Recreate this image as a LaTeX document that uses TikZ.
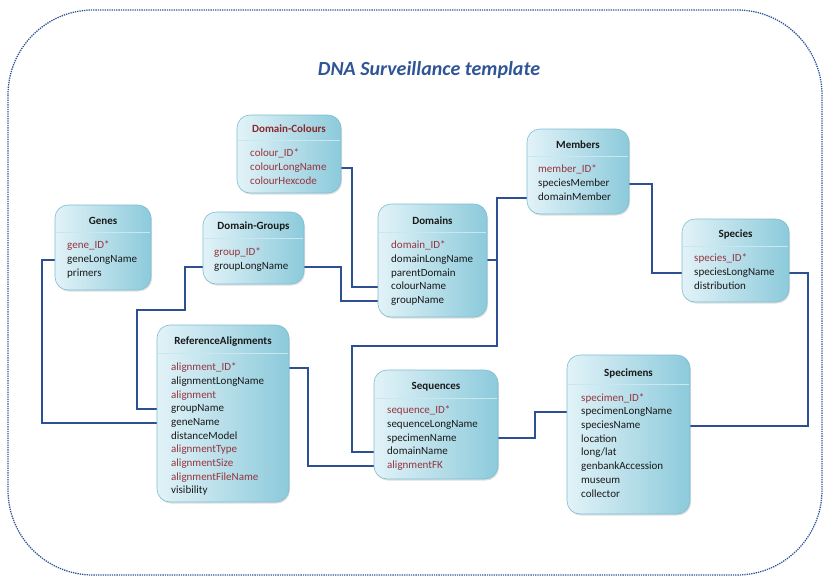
\documentclass[tikz,border=0pt]{standalone}
\usepackage{fontspec}
\setmainfont{Carlito}
\usetikzlibrary{fit,shadows,backgrounds}
\definecolor{lineblue}{RGB}{44,80,145}
\definecolor{titleblue}{RGB}{47,85,151}
\definecolor{fred}{RGB}{150,52,62}
\definecolor{hred}{RGB}{140,40,45}
\definecolor{fblack}{RGB}{25,25,25}
\definecolor{boxlight}{RGB}{226,243,248}
\definecolor{boxdark}{RGB}{140,202,219}
\definecolor{boxedge}{RGB}{125,190,210}
\definecolor{hdrline}{RGB}{200,232,241}
\tikzset{
  tbl/.style={draw=boxedge, line width=0.6pt, rounded corners=13pt, left color=boxlight, right color=boxdark, inner sep=0pt,
    drop shadow={opacity=0.25, shadow xshift=1pt, shadow yshift=-1.5pt}},
  hdr/.style={font=\bfseries\fontsize{11}{13}\selectfont, text=fblack, inner sep=0pt},
  fld/.style={font=\fontsize{11}{13}\selectfont, text=fblack, anchor=west, inner sep=0pt, text height=7.5pt, text depth=2.3pt},
  rfld/.style={fld, text=fred},
  conn/.style={draw=lineblue, line width=2pt},
  frame/.style={draw=titleblue, densely dotted, line width=1.3pt, rounded corners=85pt},
}
\newcommand\tablebox[7]{%
  \node[tbl, fit={(#2,#3)(#4,#5)}] (#1) {};
  \draw[hdrline, line width=1pt] (#2+0.6,#6+11) -- (#4-0.6,#6+11);
  \node[hdr] (#1-h) at ({(#2+#4)/2},#6) {#7};
}
\begin{document}
\begin{tikzpicture}[x=1pt,y=-1pt]
\useasboundingbox (0,0) rectangle (825,576);

\node[font=\bfseries\itshape\fontsize{20}{24}\selectfont, text=titleblue] (title) at (429,70) {DNA Surveillance template};

% Domain-Colours
\tablebox{dc}{237}{115}{341}{193}{129}{\textcolor{hred}{Domain-Colours}}
\node[rfld] (dc-1) at (250,154) {colour\_ID*};
\node[rfld] (dc-2) at (250,168) {colourLongName};
\node[rfld] (dc-3) at (250,182) {colourHexcode};

% Genes
\tablebox{gn}{55}{205}{151}{290}{221}{Genes}
\node[rfld] (gn-1) at (67,246) {gene\_ID*};
\node[fld] (gn-2) at (67,260) {geneLongName};
\node[fld] (gn-3) at (67,274) {primers};

% Domain-Groups
\tablebox{dg}{203}{212}{304}{284}{227}{Domain-Groups}
\node[rfld] (dg-1) at (214,253) {group\_ID*};
\node[fld] (dg-2) at (214,267) {groupLongName};

% Domains
\tablebox{dm}{378}{204}{487}{317}{221}{Domains}
\node[rfld] (dm-1) at (391,246) {domain\_ID*};
\node[fld] (dm-2) at (391,260) {domainLongName};
\node[fld] (dm-3) at (391,273.5) {parentDomain};
\node[fld] (dm-4) at (391,287) {colourName};
\node[fld] (dm-5) at (391,301) {groupName};

% Members
\tablebox{mb}{527}{129}{629}{214}{145}{Members}
\node[rfld] (mb-1) at (538,170) {member\_ID*};
\node[fld] (mb-2) at (538,184) {speciesMember};
\node[fld] (mb-3) at (538,198) {domainMember};

% Species
\tablebox{sp}{682}{219}{789}{302}{235}{Species}
\node[rfld] (sp-1) at (694,259) {species\_ID*};
\node[fld] (sp-2) at (694,273) {speciesLongName};
\node[fld] (sp-3) at (694,287) {distribution};

% ReferenceAlignments
\tablebox{ra}{157}{325}{289}{502}{342}{ReferenceAlignments}
\node[rfld] (ra-1) at (171,368) {alignment\_ID*};
\node[fld] (ra-2) at (171,381.7) {alignmentLongName};
\node[rfld] (ra-3) at (171,395.4) {alignment};
\node[fld] (ra-4) at (171,409.1) {groupName};
\node[fld] (ra-5) at (171,422.8) {geneName};
\node[fld] (ra-6) at (171,436.5) {distanceModel};
\node[rfld] (ra-7) at (171,450.2) {alignmentType};
\node[rfld] (ra-8) at (171,463.9) {alignmentSize};
\node[rfld] (ra-9) at (171,477.6) {alignmentFileName};
\node[fld] (ra-10) at (171,491.3) {visibility};

% Sequences
\tablebox{sq}{374}{370}{498}{479}{387}{Sequences}
\node[rfld] (sq-1) at (387,411) {sequence\_ID*};
\node[fld] (sq-2) at (387,424.7) {sequenceLongName};
\node[fld] (sq-3) at (387,438.4) {specimenName};
\node[fld] (sq-4) at (387,452.1) {domainName};
\node[rfld] (sq-5) at (387,465.8) {alignmentFK};

% Specimens
\tablebox{sm}{567}{355}{690}{514}{373}{Specimens}
\node[rfld] (sm-1) at (581,398.5) {specimen\_ID*};
\node[fld] (sm-2) at (581,412.2) {specimenLongName};
\node[fld] (sm-3) at (581,425.9) {speciesName};
\node[fld] (sm-4) at (581,439.6) {location};
\node[fld] (sm-5) at (581,453.3) {long/lat};
\node[fld] (sm-6) at (581,467) {genbankAccession};
\node[fld] (sm-7) at (581,480.7) {museum};
\node[fld] (sm-8) at (581,494.4) {collector};

\begin{scope}[on background layer]
\draw[frame] (8,10) rectangle (822,575);
\draw[conn] (gn-2 -| gn.west) -- ++(-13,0) |- (ra-5 -| ra.west);
\draw[conn] (dg-2 -| dg.west) -- ++(-18,0) -- ++(0,43) -- ++(-48,0) |- (ra-4 -| ra.west);
\draw[conn] (dg-2 -| dg.east) -- ++(37,0) |- (dm-5 -| dm.west);
\draw[conn] (dc-2 -| dc.east) -- ++(11,0) |- (dm-4 -| dm.west);
\draw[conn] (dm-2 -| dm.east) -- ++(10,0);
\draw[conn] (mb-3 -| mb.west) -- ++(-30,0) -- ++(0,148) -- ++(-145,0) |- (sq-4 -| sq.west);
\draw[conn] (mb-2 -| mb.east) -- ++(23,0) |- (sp-2 -| sp.west);
\draw[conn] (sp-2 -| sp.east) -- ++(19,0) |- (sm-3 -| sm.east);
\draw[conn] (sm-2 -| sm.west) -- ++(-32,0) |- (sq-3 -| sq.east);
\draw[conn] (ra-1 -| ra.east) -- ++(19,0) |- (sq-5 -| sq.west);
\end{scope}
\end{tikzpicture}
\end{document}
